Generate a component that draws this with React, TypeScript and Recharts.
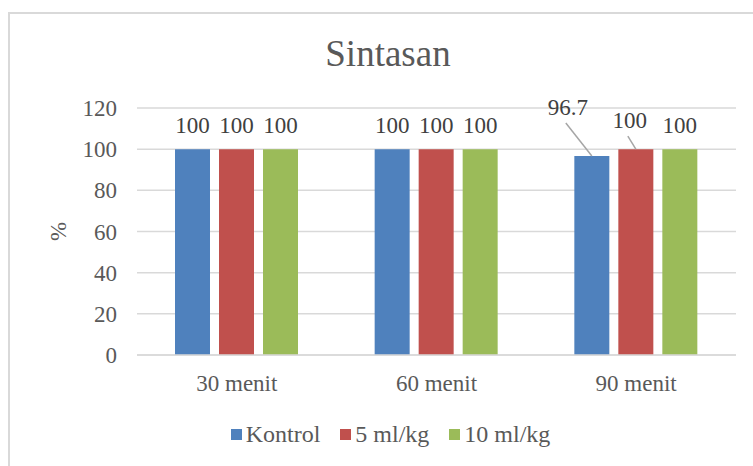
import React from "react";
import { Bar, BarChart, CartesianGrid, LabelList, Legend, XAxis, YAxis } from "recharts";

const categories = ["30 menit", "60 menit", "90 menit"];
const kontrol = [100, 100, 96.7];
const ml5 = [100, 100, 100];
const ml10 = [100, 100, 100];
const yTicks = [0, 20, 40, 60, 80, 100, 120];
const seriesNames = ["Kontrol", "5 ml/kg", "10 ml/kg"];

const data = categories.map((name, i) => ({
  name,
  kontrol: kontrol[i],
  ml5: ml5[i],
  ml10: ml10[i],
}));

const FONT = '"Times New Roman", "Liberation Serif", "DejaVu Serif", serif';
const TEXT = "#595959";
const GRID = "#D9D9D9";

// labels that Excel pushed aside with a leader line: [series][index] -> shift
const labelShift: Record<string, Record<number, { dx: number; dy: number }>> = {
  kontrol: { 2: { dx: -24, dy: -25 } },
  ml5: { 2: { dx: -6, dy: -5 } },
};

const makeLabel = (key: string) => (props: any) => {
  const { x, y, width, value, index } = props;
  const cx = x + width / 2;
  const shift = labelShift[key]?.[index];
  const tx = cx + (shift ? shift.dx : 0);
  const ty = y - 16 + (shift ? shift.dy : 0);
  return (
    <g>
      {shift && <line x1={cx} y1={y} x2={tx - 2} y2={ty + 8} stroke="#A6A6A6" strokeWidth={1.5} />}
      <text x={tx} y={ty} textAnchor="middle" fontSize={23} fontFamily={FONT} fill="#404040">
        {value}
      </text>
    </g>
  );
};

const renderLegend = (props: any) => {
  const items = [...props.payload].sort(
    (a: any, b: any) => seriesNames.indexOf(a.value) - seriesNames.indexOf(b.value)
  );
  return (
    <div style={{ display: "flex", justifyContent: "center", paddingLeft: 28, fontFamily: FONT, fontSize: 24, color: TEXT }}>
      {items.map((p: any) => (
        <div key={p.value} style={{ display: "flex", alignItems: "center", margin: "0 10px" }}>
          <span style={{ width: 11, height: 11, background: p.color, marginRight: 4, display: "inline-block" }} />
          <span>{p.value}</span>
        </div>
      ))}
    </div>
  );
};

export default function App() {
  return (
    <div style={{ position: "fixed", left: 0, top: 0, width: 753, height: 466, overflow: "hidden", background: "#fff" }}>
      <div
        style={{
          position: "absolute",
          left: 8,
          top: 12,
          width: 800,
          height: 500,
          borderLeft: `2px solid ${GRID}`,
          borderTop: `2px solid ${GRID}`,
        }}
      />
      <div
        style={{
          position: "absolute",
          left: 0,
          width: 776,
          top: 32,
          textAlign: "center",
          fontFamily: FONT,
          fontSize: 37,
          color: TEXT,
        }}
      >
        Sintasan
      </div>
      <div style={{ position: "absolute", left: 0, top: 0 }}>
        <BarChart
          width={753}
          height={466}
          data={data}
          margin={{ top: 108, right: 17, bottom: 0, left: 0 }}
          barSize={35}
          barGap={9}
        >
          <CartesianGrid vertical={false} stroke={GRID} strokeWidth={1.5} />
          <XAxis
            dataKey="name"
            height={111}
            tickLine={false}
            axisLine={{ stroke: GRID, strokeWidth: 1.5 }}
            tickSize={0}
            tickMargin={20}
            tick={{ fontSize: 23, fontFamily: FONT, fill: TEXT }}
          />
          <YAxis
            width={137}
            domain={[0, 120]}
            ticks={yTicks}
            tickLine={false}
            axisLine={false}
            tickSize={0}
            tickMargin={20}
            tick={{ fontSize: 23, fontFamily: FONT, fill: TEXT }}
            label={{ value: "%", angle: -90, position: "center", dx: -11, fontSize: 23, fontFamily: FONT, fill: TEXT }}
          />
          <Legend
            layout="horizontal"
            verticalAlign="middle"
            align="center"
            content={renderLegend}
            wrapperStyle={{ top: 421, left: 0, width: 753 }}
          />
          <Bar dataKey="kontrol" name="Kontrol" fill="#4F81BD" isAnimationActive={false}>
            <LabelList dataKey="kontrol" content={makeLabel("kontrol")} />
          </Bar>
          <Bar dataKey="ml5" name="5 ml/kg" fill="#C0504D" isAnimationActive={false}>
            <LabelList dataKey="ml5" content={makeLabel("ml5")} />
          </Bar>
          <Bar dataKey="ml10" name="10 ml/kg" fill="#9BBB59" isAnimationActive={false}>
            <LabelList dataKey="ml10" content={makeLabel("ml10")} />
          </Bar>
        </BarChart>
      </div>
    </div>
  );
}
